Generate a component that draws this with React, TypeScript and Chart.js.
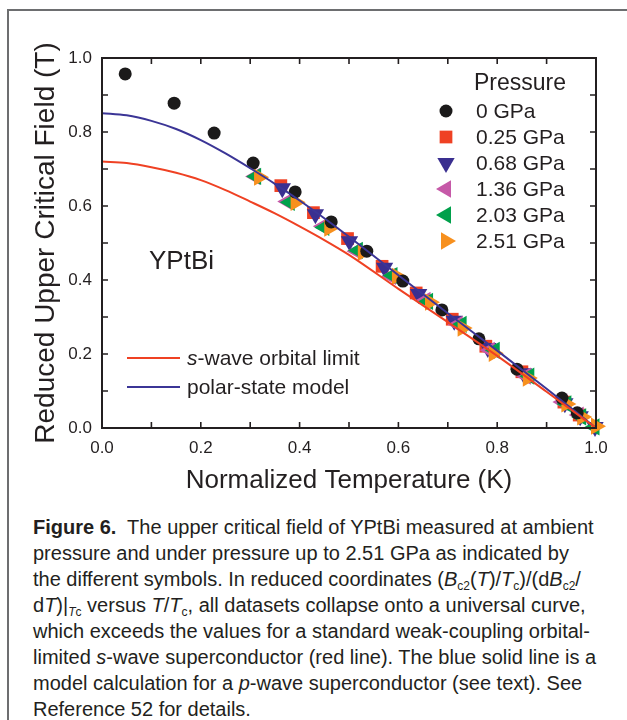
import React, { useEffect, useRef } from "react";
import { Chart, registerables } from "chart.js";

Chart.register(...registerables);

// ---------- axis ticks ----------
const X_TICKS = [0, 0.1, 0.2, 0.3, 0.4, 0.5, 0.6, 0.7, 0.8, 0.9, 1.0];
const Y_TICKS = [0, 0.1, 0.2, 0.3, 0.4, 0.5, 0.6, 0.7, 0.8, 0.9, 1.0];
const X_LABEL = "Normalized Temperature (K)";
const Y_LABEL = "Reduced Upper Critical Field (T)";

// ---------- data: series (T/Tc, reduced Bc2) ----------
const SERIES_NAMES = ["0 GPa", "0.25 GPa", "0.68 GPa", "1.36 GPa", "2.03 GPa", "2.51 GPa"];

const T_0 = [0.047, 0.146, 0.227, 0.306, 0.391, 0.464, 0.536, 0.609, 0.688, 0.763, 0.84, 0.931, 0.962];
const B_0 = [0.957, 0.878, 0.797, 0.716, 0.638, 0.557, 0.478, 0.397, 0.319, 0.241, 0.159, 0.081, 0.041];

const T_025 = [0.362, 0.428, 0.497, 0.567, 0.636, 0.709, 0.777, 0.85, 0.935, 0.966];
const B_025 = [0.655, 0.582, 0.512, 0.437, 0.365, 0.294, 0.221, 0.152, 0.07, 0.035];

const T_068 = [0.365, 0.432, 0.501, 0.572, 0.641, 0.713, 0.781, 0.853, 0.937, 0.968, 0.998];
const B_068 = [0.648, 0.578, 0.505, 0.433, 0.362, 0.29, 0.216, 0.148, 0.067, 0.032, 0.003];

const T_136 = [0.31, 0.375, 0.447, 0.515, 0.585, 0.655, 0.72, 0.785, 0.858, 0.932, 0.965];
const B_136 = [0.68, 0.612, 0.545, 0.478, 0.41, 0.345, 0.28, 0.21, 0.14, 0.07, 0.035];

const T_203 = [0.312, 0.38, 0.45, 0.518, 0.588, 0.66, 0.728, 0.795, 0.865, 0.94, 0.97, 0.997];
const B_203 = [0.68, 0.61, 0.542, 0.48, 0.412, 0.342, 0.28, 0.21, 0.14, 0.065, 0.03, 0.003];

const T_251 = [0.318, 0.392, 0.46, 0.528, 0.597, 0.664, 0.73, 0.793, 0.862, 0.94, 0.972, 1.0];
const B_251 = [0.678, 0.61, 0.54, 0.475, 0.41, 0.34, 0.27, 0.202, 0.135, 0.065, 0.03, 0.005];

// ---------- model curves ----------
const SWAVE_NAME = "s-wave orbital limit";
const SWAVE_T = [0, 0.05, 0.1, 0.15, 0.2, 0.25, 0.3, 0.35, 0.4, 0.45, 0.5, 0.6, 0.7, 0.8, 0.9, 1.0];
const SWAVE_B = [0.72, 0.716, 0.705, 0.69, 0.67, 0.643, 0.612, 0.58, 0.545, 0.508, 0.468, 0.376, 0.286, 0.195, 0.098, 0];

const POLAR_NAME = "polar-state model";
const POLAR_T = [0, 0.05, 0.1, 0.15, 0.2, 0.25, 0.3, 0.35, 0.4, 0.45, 0.5, 0.6, 0.7, 0.8, 0.9, 1.0];
const POLAR_B = [0.851, 0.845, 0.83, 0.808, 0.778, 0.742, 0.702, 0.66, 0.615, 0.567, 0.517, 0.413, 0.31, 0.209, 0.106, 0];

const SAMPLE_LABEL = "YPtBi";
const LEGEND_TITLE = "Pressure";

// ---------- styles ----------
const FONT = '"Liberation Sans", Arial, Helvetica, sans-serif';
const INK = "#231f20";
const C_BLACK = "#1b1a1a";
const C_RED = "#ef4123";
const C_BLUE = "#3a2f90";
const C_PINK = "#c659a8";
const C_GREEN = "#00a04b";
const C_ORANGE = "#f7901e";
const LINE_RED = "#ef4123";
const LINE_BLUE = "#3b3596";

type Marker = { color: string; style: string; rot: number; r: number };
const MARKERS: Marker[] = [
  { color: C_BLACK, style: "circle", rot: 0, r: 6.5 },
  { color: C_RED, style: "rect", rot: 0, r: 9 },
  { color: C_BLUE, style: "triangle", rot: 180, r: 10 },
  { color: C_PINK, style: "triangle", rot: 270, r: 10 },
  { color: C_GREEN, style: "triangle", rot: 270, r: 10 },
  { color: C_ORANGE, style: "triangle", rot: 90, r: 10 },
];

function pts(xs: number[], ys: number[]) {
  return xs.map((x, i) => ({ x, y: ys[i] }));
}

function drawMarker(ctx: CanvasRenderingContext2D, m: Marker, x: number, y: number) {
  ctx.save();
  ctx.fillStyle = m.color;
  ctx.beginPath();
  if (m.style === "circle") {
    ctx.arc(x, y, m.r, 0, Math.PI * 2);
  } else if (m.style === "rect") {
    const s = Math.SQRT1_2 * m.r;
    ctx.rect(x - s, y - s, 2 * s, 2 * s);
  } else {
    const rad = (m.rot * Math.PI) / 180;
    for (let k = 0; k < 3; k++) {
      const a = rad + (k * 2 * Math.PI) / 3;
      const px = x + Math.sin(a) * m.r;
      const py = y - Math.cos(a) * m.r;
      if (k === 0) ctx.moveTo(px, py);
      else ctx.lineTo(px, py);
    }
    ctx.closePath();
  }
  ctx.fill();
  ctx.restore();
}

const decorPlugin = {
  id: "decor",
  afterDatasetsDraw(chart: any) {
    const { ctx, chartArea: a, scales } = chart;
    const xs = scales.x;
    const ys = scales.y;
    ctx.save();
    // inward ticks on all four sides
    ctx.strokeStyle = INK;
    ctx.lineWidth = 1.6;
    const TL = 6;
    ctx.beginPath();
    X_TICKS.forEach((v) => {
      const px = xs.getPixelForValue(v);
      ctx.moveTo(px, a.bottom);
      ctx.lineTo(px, a.bottom - TL);
      ctx.moveTo(px, a.top);
      ctx.lineTo(px, a.top + TL);
    });
    Y_TICKS.forEach((v) => {
      const py = ys.getPixelForValue(v);
      ctx.moveTo(a.left, py);
      ctx.lineTo(a.left + TL, py);
      ctx.moveTo(a.right, py);
      ctx.lineTo(a.right - TL, py);
    });
    ctx.stroke();
    // frame
    ctx.lineWidth = 2;
    ctx.strokeRect(a.left, a.top, a.right - a.left, a.bottom - a.top);

    // pressure legend
    ctx.fillStyle = INK;
    ctx.textBaseline = "middle";
    ctx.textAlign = "left";
    ctx.font = `23px ${FONT}`;
    ctx.fillText(LEGEND_TITLE, 474, 84);
    ctx.font = `21px ${FONT}`;
    const rows = [111, 137, 163, 189, 215, 241];
    SERIES_NAMES.forEach((name, i) => {
      drawMarker(ctx, MARKERS[i], 446, rows[i]);
      ctx.fillStyle = INK;
      ctx.fillText(name, 476, rows[i] + 1);
    });

    // sample label
    ctx.font = `26px ${FONT}`;
    ctx.fillText(SAMPLE_LABEL, 149, 262);

    // model legend
    const lines = [
      { color: LINE_RED, y: 358, name: SWAVE_NAME },
      { color: LINE_BLUE, y: 387, name: POLAR_NAME },
    ];
    lines.forEach((l, i) => {
      ctx.strokeStyle = l.color;
      ctx.lineWidth = 2;
      ctx.beginPath();
      ctx.moveTo(127, l.y);
      ctx.lineTo(180, l.y);
      ctx.stroke();
      ctx.fillStyle = INK;
      if (i === 0) {
        ctx.font = `italic 21px ${FONT}`;
        ctx.fillText("s", 187, l.y + 1);
        const w = ctx.measureText("s").width;
        ctx.font = `21px ${FONT}`;
        ctx.fillText(l.name.slice(1), 187 + w, l.y + 1);
      } else {
        ctx.font = `21px ${FONT}`;
        ctx.fillText(l.name, 187, l.y + 1);
      }
    });
    ctx.restore();
  },
};

export default function App() {
  const ref = useRef<HTMLCanvasElement>(null);

  useEffect(() => {
    const canvas = ref.current;
    if (!canvas) return;
    const seriesT = [T_0, T_025, T_068, T_136, T_203, T_251];
    const seriesB = [B_0, B_025, B_068, B_136, B_203, B_251];
    const orders = [1, 6, 5, 4, 3, 2];
    const scatterSets = SERIES_NAMES.map((name, i) => ({
      label: name,
      data: pts(seriesT[i], seriesB[i]),
      showLine: false,
      pointStyle: MARKERS[i].style,
      pointRotation: MARKERS[i].rot,
      pointRadius: MARKERS[i].r,
      pointBackgroundColor: MARKERS[i].color,
      pointBorderColor: MARKERS[i].color,
      pointBorderWidth: 0,
      backgroundColor: MARKERS[i].color,
      borderColor: MARKERS[i].color,
      order: orders[i],
      clip: 12,
    }));
    const curve = (name: string, xs: number[], ys: number[], color: string) => ({
      label: name,
      data: pts(xs, ys),
      showLine: true,
      borderColor: color,
      backgroundColor: color,
      borderWidth: 2,
      pointRadius: 0,
      cubicInterpolationMode: "monotone",
      fill: false,
      order: 0,
    });

    const chart = new Chart(canvas, {
      type: "scatter",
      data: {
        datasets: [
          curve(SWAVE_NAME, SWAVE_T, SWAVE_B, LINE_RED),
          curve(POLAR_NAME, POLAR_T, POLAR_B, LINE_BLUE),
          ...scatterSets,
        ] as any,
      },
      options: {
        responsive: false,
        animation: false,
        devicePixelRatio: 1,
        layout: { padding: { left: 0, right: 31, top: 58, bottom: 0 } },
        plugins: {
          legend: { display: false },
          tooltip: { enabled: false },
        },
        scales: {
          x: {
            type: "linear",
            min: 0,
            max: 1,
            grid: { display: false, drawTicks: false },
            border: { display: false },
            ticks: {
              stepSize: 0.2,
              padding: 10,
              color: INK,
              font: { family: FONT, size: 17 },
              maxRotation: 0,
              callback: (v: any) => Number(v).toFixed(1),
            },
            title: {
              display: true,
              text: X_LABEL,
              color: INK,
              font: { family: FONT, size: 26 },
              padding: { top: 0, bottom: 4 },
            },
            afterFit: (s: any) => {
              s.height = 72;
            },
          },
          y: {
            type: "linear",
            min: 0,
            max: 1,
            grid: { display: false, drawTicks: false },
            border: { display: false },
            ticks: {
              stepSize: 0.2,
              padding: 10,
              color: INK,
              font: { family: FONT, size: 17 },
              callback: (v: any) => Number(v).toFixed(1),
            },
            title: {
              display: true,
              text: Y_LABEL,
              color: INK,
              font: { family: FONT, size: 28 },
              padding: { top: 29, bottom: 0 },
            },
            afterFit: (s: any) => {
              s.width = 102;
            },
          },
        },
      } as any,
      plugins: [decorPlugin],
    });
    return () => chart.destroy();
  }, []);

  const sub: React.CSSProperties = { fontSize: 12, lineHeight: 0, position: "relative", top: 4 };
  const lineStyle: React.CSSProperties = { whiteSpace: "nowrap", height: 26 };

  return (
    <div
      style={{
        position: "absolute",
        left: 0,
        top: 0,
        width: 627,
        height: 720,
        overflow: "hidden",
        background: "#ffffff",
      }}
    >
      <div
        style={{
          position: "absolute",
          left: 7,
          top: 9,
          width: 700,
          height: 800,
          borderLeft: "2px solid #6d6e70",
          borderTop: "2px solid #6d6e70",
        }}
      />
      <canvas
        ref={ref}
        width={627}
        height={500}
        style={{ position: "absolute", left: 0, top: 0, width: 627, height: 500 }}
      />
      <div
        style={{
          position: "absolute",
          left: 33,
          top: 514,
          fontFamily: FONT,
          fontSize: 20,
          lineHeight: "26px",
          color: INK,
        }}
      >
        <div style={lineStyle}>
          <b>Figure 6.</b>&nbsp; The upper critical field of YPtBi measured at ambient
        </div>
        <div style={lineStyle}>pressure and under pressure up to 2.51 GPa as indicated by</div>
        <div style={lineStyle}>
          the different symbols. In reduced coordinates (<i>B</i>
          <span style={sub}>c2</span>(<i>T</i>)/<i>T</i>
          <span style={sub}>c</span>)/(d<i>B</i>
          <span style={sub}>c2</span>/
        </div>
        <div style={lineStyle}>
          d<i>T</i>)|<span style={sub}>
            <i>T</i>c
          </span>{" "}
          versus <i>T</i>/<i>T</i>
          <span style={sub}>c</span>, all datasets collapse onto a universal curve,
        </div>
        <div style={lineStyle}>which exceeds the values for a standard weak-coupling orbital-</div>
        <div style={lineStyle}>
          limited <i>s</i>-wave superconductor (red line). The blue solid line is a
        </div>
        <div style={lineStyle}>
          model calculation for a <i>p</i>-wave superconductor (see text). See
        </div>
        <div style={lineStyle}>Reference 52 for details.</div>
      </div>
    </div>
  );
}
